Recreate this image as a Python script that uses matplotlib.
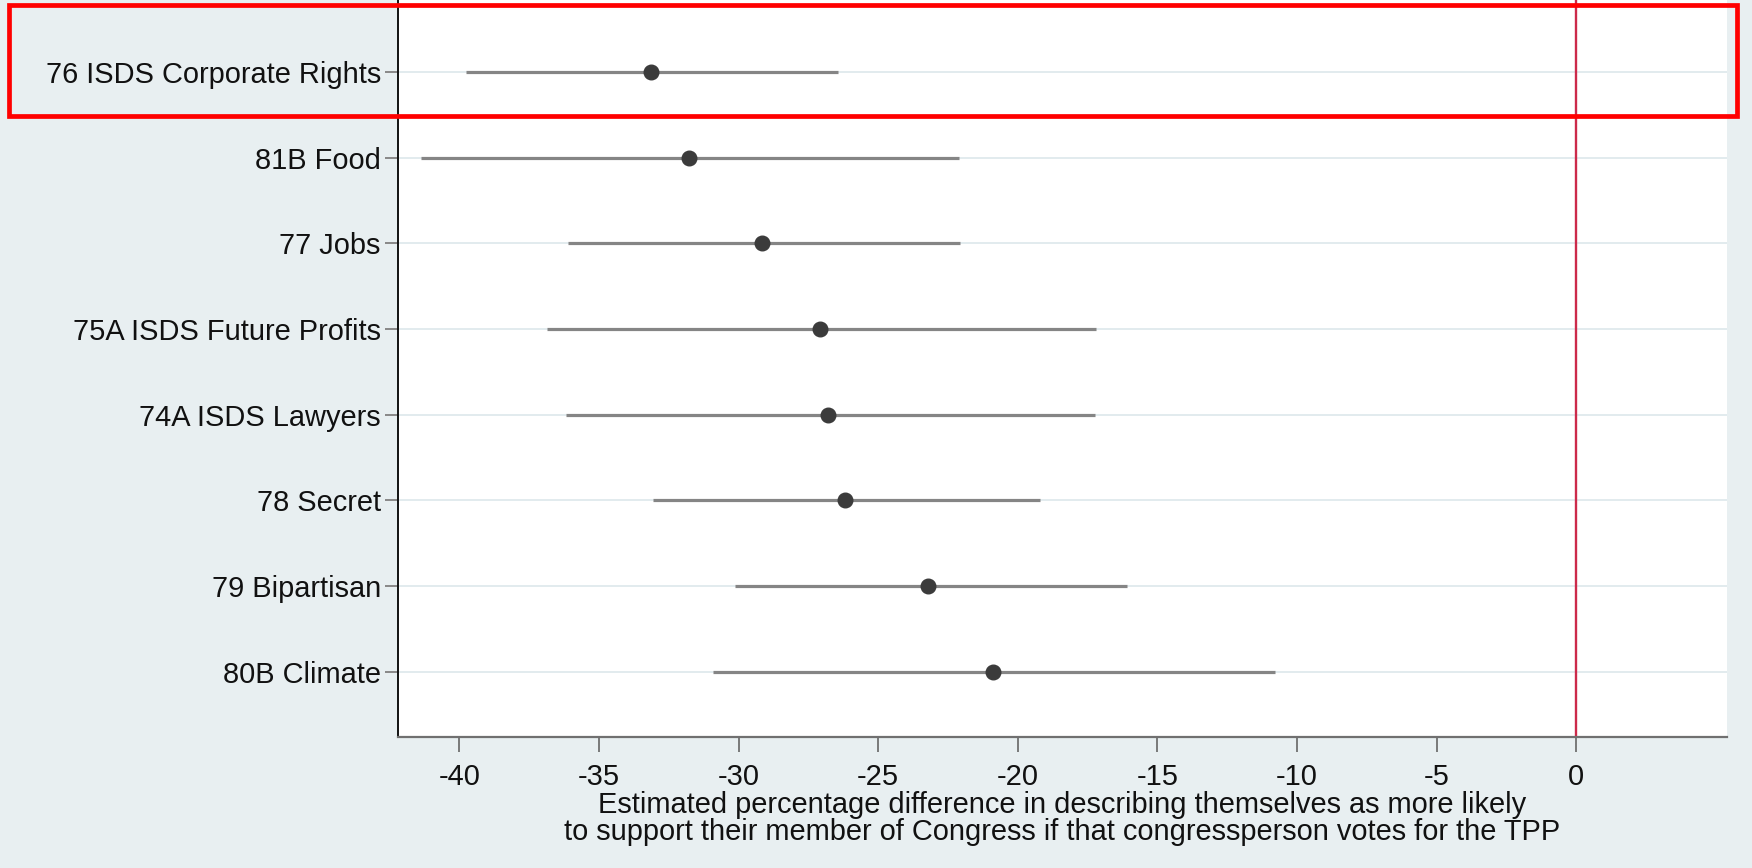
import matplotlib
matplotlib.use("Agg")
import matplotlib.pyplot as plt
from matplotlib.patches import Rectangle

# ---- data ----
categories = [
    "76 ISDS Corporate Rights",
    "81B Food",
    "77 Jobs",
    "75A ISDS Future Profits",
    "74A ISDS Lawyers",
    "78 Secret",
    "79 Bipartisan",
    "80B Climate",
]
estimates = [-33.15, -31.76, -29.15, -27.09, -26.79, -26.20, -23.20, -20.90]
ci_low = [-39.75, -41.37, -36.10, -36.87, -36.18, -33.08, -30.14, -30.90]
ci_high = [-26.43, -22.09, -22.07, -17.19, -17.23, -19.19, -16.10, -10.79]
xtick_values = [-40, -35, -30, -25, -20, -15, -10, -5, 0]
xlabel_text = ("Estimated percentage difference in describing themselves as more likely\n"
               "to support their member of Congress if that congressperson votes for the TPP")

# ---- style ----
BG = "#e8eff1"
GRID = "#e2ebee"
CI_COLOR = "#858585"
PT_COLOR = "#3b3b3b"
REF_COLOR = "#cc2a4a"
FS = 20.9

plt.rcParams["font.family"] = ["Liberation Sans", "DejaVu Sans"]

W, H = 1752, 868
fig = plt.figure(figsize=(W / 100, H / 100), dpi=100, facecolor=BG)
ax = fig.add_axes([398 / W, (H - 737) / H, (1727 - 398) / W, 737 / H])
ax.set_facecolor("white")

n = len(categories)
ypos = [n - i for i in range(n)]

ax.set_xlim(-42.2, 5.4)
ax.set_ylim(0.24, 8.84)

for y in ypos:
    ax.axhline(y, color=GRID, lw=1.4, zorder=0)

ax.axvline(0, color=REF_COLOR, lw=1.7, zorder=1)
ax.hlines(ypos, ci_low, ci_high, color=CI_COLOR, lw=2.3, zorder=2)
ax.plot(estimates, ypos, "o", color=PT_COLOR, ms=10.5, mec=PT_COLOR, zorder=3)

ax.set_yticks(ypos)
ax.set_yticklabels(categories, fontsize=FS, color="#111111")
ax.set_xticks(xtick_values)
ax.set_xticklabels([str(v) for v in xtick_values], fontsize=FS, color="#111111")

ax.tick_params(axis="y", length=9.4, width=1.3, color="#808080", pad=3)
ax.tick_params(axis="x", length=11, width=1.3, color="#707070", pad=7.5)

for s in ["top", "right"]:
    ax.spines[s].set_visible(False)
ax.spines["left"].set_color("#111111")
ax.spines["left"].set_linewidth(1.4)
ax.spines["bottom"].set_color("#707070")
ax.spines["bottom"].set_linewidth(1.6)

ax.set_xlabel(xlabel_text, fontsize=FS, color="#111111", linespacing=0.97, labelpad=0)

# red highlight box around the first row (annotation on the screenshot)
box_left, box_top, box_right, box_bottom = 9, 5, 1737, 116
fig.add_artist(Rectangle((box_left / W, (H - box_bottom) / H),
                         (box_right - box_left) / W, (box_bottom - box_top) / H,
                         transform=fig.transFigure, fill=False,
                         edgecolor="#ff0000", lw=3.4, zorder=10))

fig.savefig("out.png", dpi=100, facecolor=BG)
